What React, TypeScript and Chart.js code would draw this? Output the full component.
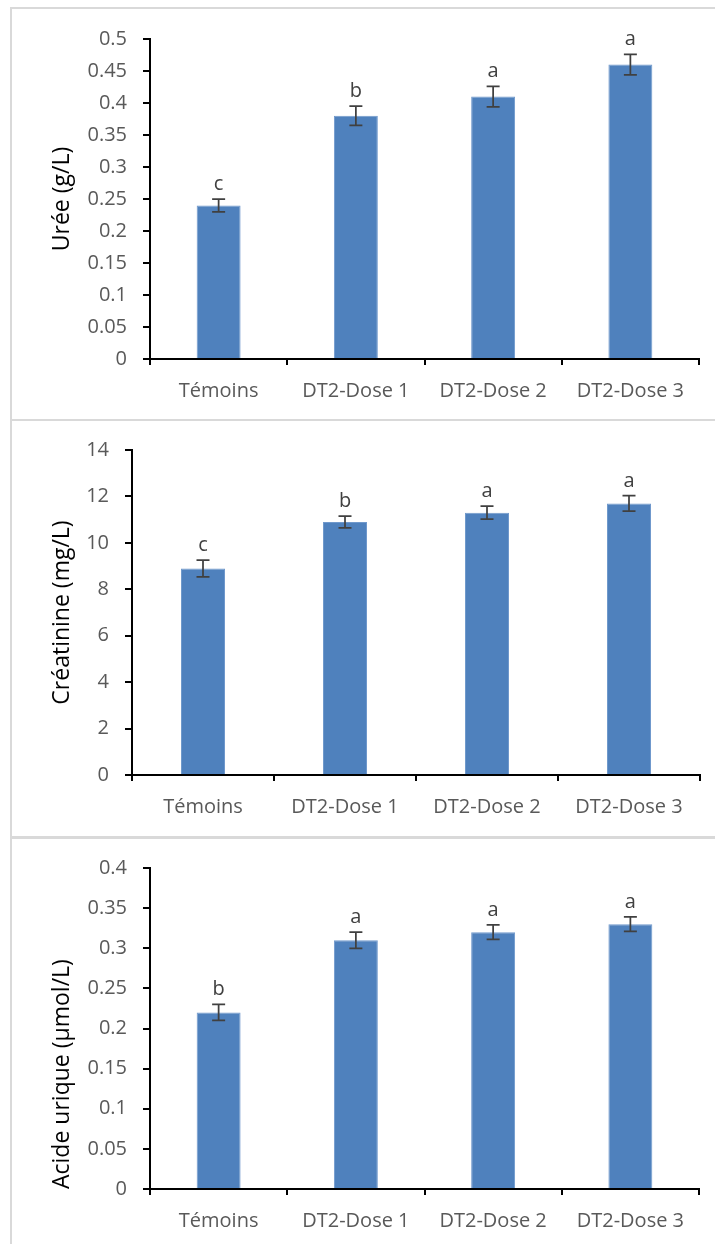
import React, { useEffect, useRef } from 'react';
import { Chart, registerables } from 'chart.js';

Chart.register(...registerables);

const FONT = "'Open Sans', 'Noto Sans', sans-serif";

// ---- Data ----
const categories = ['Témoins', 'DT2-Dose 1', 'DT2-Dose 2', 'DT2-Dose 3'];

const ureeValues = [0.24, 0.38, 0.41, 0.46];
const ureeErrors = [0.01, 0.015, 0.016, 0.016];
const ureeLetters = ['c', 'b', 'a', 'a'];

const creatValues = [8.9, 10.9, 11.3, 11.7];
const creatErrors = [0.36, 0.25, 0.28, 0.33];
const creatLetters = ['c', 'b', 'a', 'a'];

const uricValues = [0.22, 0.31, 0.32, 0.33];
const uricErrors = [0.01, 0.01, 0.009, 0.009];
const uricLetters = ['b', 'a', 'a', 'a'];

const ureeAxis = { max: 0.5, step: 0.05, title: 'Urée (g/L)' };
const creatAxis = { max: 14, step: 2, title: 'Créatinine (mg/L)' };
const uricAxis = { max: 0.4, step: 0.05, title: 'Acide urique (µmol/L)' };

// ---- Plugin: error bars + significance letters ----
const errorBarPlugin = {
  id: 'errorBars',
  afterDatasetsDraw(chart: any, _args: any, opts: any) {
    const { ctx } = chart;
    const meta = chart.getDatasetMeta(0);
    const yScale = chart.scales.y;
    const data = chart.data.datasets[0].data as number[];
    ctx.save();
    meta.data.forEach((el: any, i: number) => {
      const v = data[i];
      const e = opts.errors[i];
      const x = el.x;
      const yT = yScale.getPixelForValue(v + e);
      const yB = yScale.getPixelForValue(v - e);
      ctx.strokeStyle = '#404040';
      ctx.lineWidth = 1.75;
      ctx.beginPath();
      ctx.moveTo(x, yT);
      ctx.lineTo(x, yB);
      ctx.moveTo(x - 6.5, yT);
      ctx.lineTo(x + 6.5, yT);
      ctx.moveTo(x - 6.5, yB);
      ctx.lineTo(x + 6.5, yB);
      ctx.stroke();
      ctx.fillStyle = '#404040';
      ctx.font = `20px ${FONT}`;
      ctx.textAlign = 'center';
      ctx.textBaseline = 'alphabetic';
      ctx.fillText(opts.letters[i], x, yT - 9);
    });
    ctx.restore();
  },
};

type Panel = {
  values: number[];
  errors: number[];
  letters: string[];
  axis: { max: number; step: number; title: string };
  top: number; // page top of canvas
  h: number; // canvas height
  left: number; // chart area left
  right: number; // chart area right
  cTop: number; // chart area top (canvas coords)
  cBottom: number; // chart area bottom (canvas coords)
  barPct: number;
  titleAlign: 'center' | 'start';
};

const panels: Panel[] = [
  {
    values: ureeValues, errors: ureeErrors, letters: ureeLetters, axis: ureeAxis,
    top: 0, h: 419, left: 150, right: 699, cTop: 39, cBottom: 359, barPct: 0.32, titleAlign: 'center',
  },
  {
    values: creatValues, errors: creatErrors, letters: creatLetters, axis: creatAxis,
    top: 419, h: 418, left: 132, right: 700, cTop: 31, cBottom: 356, barPct: 0.31, titleAlign: 'center',
  },
  {
    values: uricValues, errors: uricErrors, letters: uricLetters, axis: uricAxis,
    top: 837, h: 407, left: 150, right: 699, cTop: 31, cBottom: 352, barPct: 0.32, titleAlign: 'start',
  },
];

function makeConfig(p: Panel): any {
  return {
    type: 'bar',
    data: {
      labels: categories,
      datasets: [
        {
          data: p.values,
          backgroundColor: '#4F81BD',
          borderColor: '#7099CC',
          borderWidth: 1,
          categoryPercentage: 1,
          barPercentage: p.barPct,
        },
      ],
    },
    options: {
      responsive: false,
      animation: false,
      devicePixelRatio: 1,
      layout: { padding: { top: p.cTop, right: 715 - p.right, left: 0, bottom: 0 } },
      plugins: {
        legend: { display: false },
        tooltip: { enabled: false },
        errorBars: { errors: p.errors, letters: p.letters },
      },
      scales: {
        x: {
          grid: {
            offset: true,
            drawOnChartArea: false,
            drawTicks: true,
            tickLength: 6,
            color: '#000',
            lineWidth: 2,
          },
          border: { display: true, color: '#000', width: 2 },
          ticks: {
            color: '#595959',
            font: { size: 20, family: FONT },
            padding: 14,
            maxRotation: 0,
            autoSkip: false,
          },
          afterFit: (s: any) => {
            s.height = p.h - p.cBottom;
          },
        },
        y: {
          min: 0,
          max: p.axis.max,
          ticks: {
            stepSize: p.axis.step,
            color: '#595959',
            font: { size: 20, family: FONT },
            padding: 16,
            callback: (v: number) => String(Number(Number(v).toFixed(2))),
          },
          grid: {
            drawOnChartArea: false,
            drawTicks: true,
            tickLength: 7,
            color: '#000',
            lineWidth: 2,
          },
          border: { display: true, color: '#000', width: 2 },
          title: {
            display: true,
            text: p.axis.title,
            color: '#000',
            align: p.titleAlign,
            font: { size: 23, family: FONT },
            padding: { top: 49, bottom: 0 },
          },
          afterFit: (s: any) => {
            s.width = p.left;
          },
        },
      },
    },
    plugins: [errorBarPlugin],
  };
}

export default function App() {
  const r0 = useRef<HTMLCanvasElement>(null);
  const r1 = useRef<HTMLCanvasElement>(null);
  const r2 = useRef<HTMLCanvasElement>(null);
  const refs = [r0, r1, r2];

  useEffect(() => {
    const charts = panels.map((p, i) => new Chart(refs[i].current as HTMLCanvasElement, makeConfig(p)));
    return () => charts.forEach((c) => c.destroy());
  }, []);

  const frames = [
    { top: 7, height: 414 },
    { top: 419, height: 420 },
    { top: 836, height: 430 },
  ];

  return (
    <div
      style={{
        position: 'absolute',
        left: 0,
        top: 0,
        width: 715,
        height: 1244,
        overflow: 'hidden',
        background: '#fff',
      }}
    >
      {frames.map((f, i) => (
        <div
          key={'f' + i}
          style={{
            position: 'absolute',
            left: 10,
            top: f.top,
            width: 720,
            height: f.height,
            boxSizing: 'border-box',
            border: '2px solid #D9D9D9',
          }}
        />
      ))}
      {panels.map((p, i) => (
        <canvas
          key={'c' + i}
          ref={refs[i]}
          width={715}
          height={p.h}
          style={{ position: 'absolute', left: 0, top: p.top, width: 715, height: p.h }}
        />
      ))}
    </div>
  );
}
